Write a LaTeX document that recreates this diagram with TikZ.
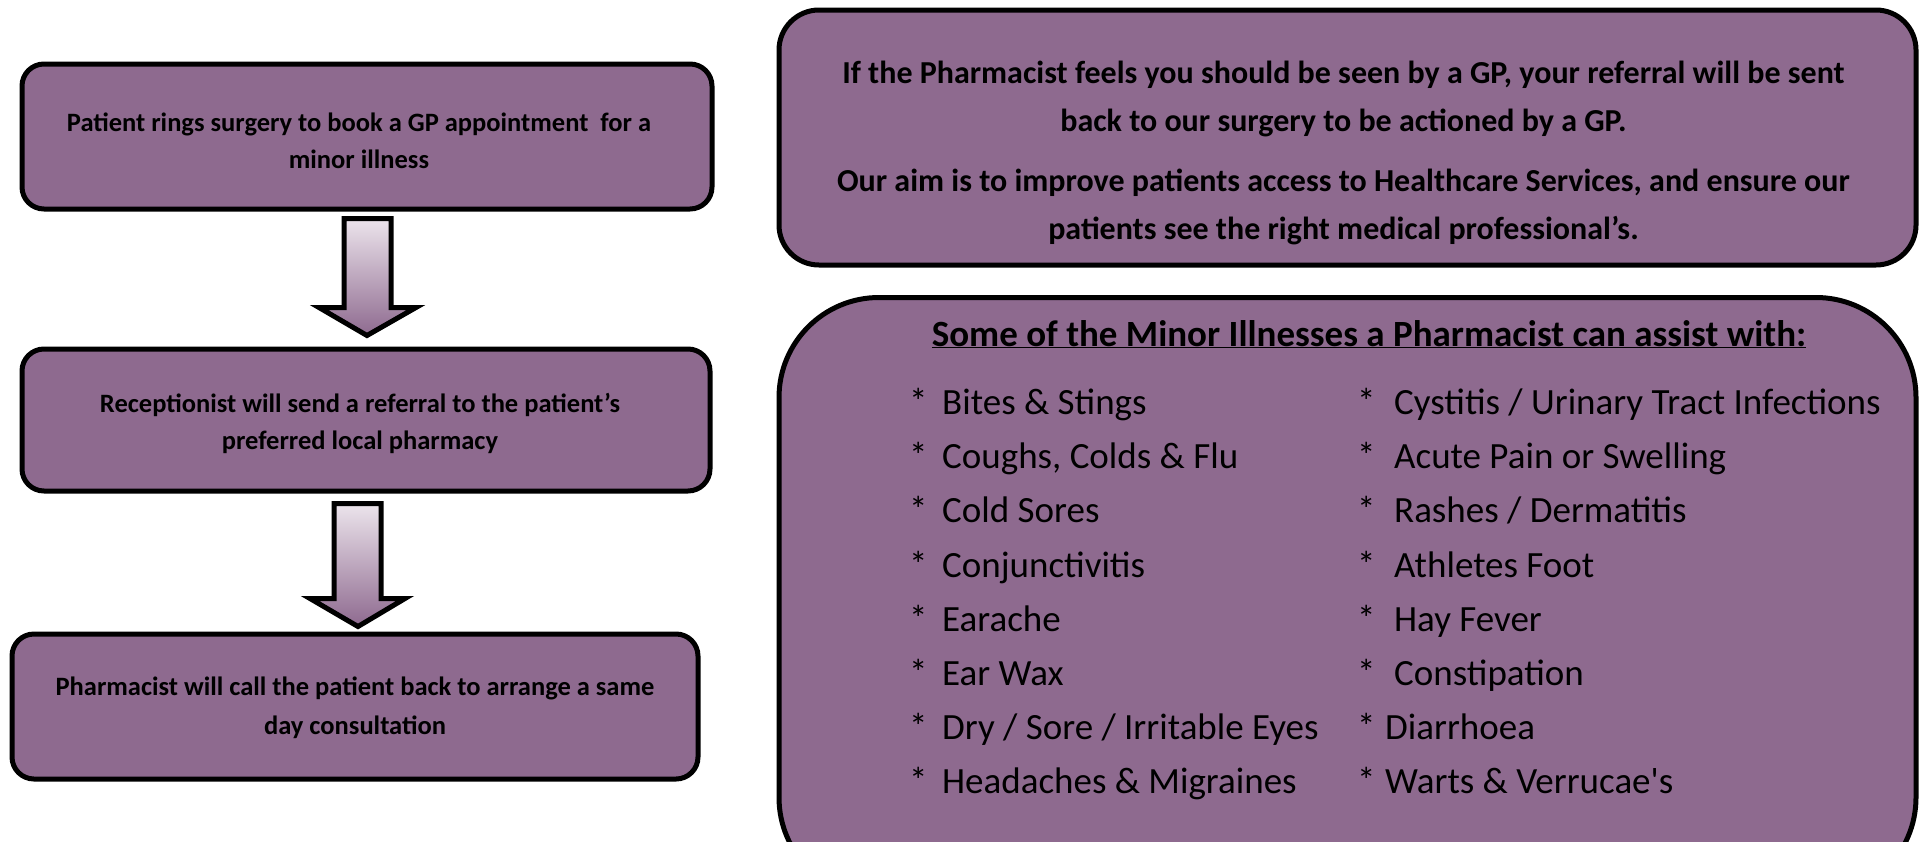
\documentclass[tikz,border=0pt]{standalone}
\usepackage{fontspec}
\setmainfont{Carlito}
\newfontfamily\plaincarlito{Carlito}
\usetikzlibrary{calc}
\definecolor{boxfill}{RGB}{142,106,143}
\definecolor{arrowtop}{RGB}{236,228,236}
\newcommand\litem[1]{\makebox[33pt][l]{*}#1}
\newcommand\ritem[1]{\makebox[37pt][l]{*}#1}
\newcommand\ritemb[1]{\makebox[28pt][l]{*}#1}
\begin{document}
\begin{tikzpicture}[x=1pt,y=1pt,
  flowbox/.style={draw=black, line width=5pt, fill=boxfill, rounded corners=22pt, inner sep=0pt},
  flowtext/.style={align=center, font=\bfseries\fontsize{26.5}{37}\selectfont, inner sep=0pt},
  infobox/.style={draw=black, line width=5pt, fill=boxfill, inner sep=0pt},
  blockarrow/.style={draw=black, line width=5pt, line join=miter, top color=arrowtop, bottom color=boxfill},
  listitem/.style={anchor=base west, inner sep=0pt, font=\fontsize{37}{42}\selectfont}
]
\useasboundingbox (0,0) rectangle (1926,-841);
\clip (0,0) rectangle (1926,-841);

% left flow boxes
\node[flowbox, minimum width=690pt, minimum height=145pt] (b1) at (367,-136.5) {};
\node[flowbox, minimum width=688pt, minimum height=142pt] (b2) at (366,-420) {};
\node[flowbox, minimum width=686pt, minimum height=145pt] (b3) at (355,-706.5) {};
\node[flowtext] (t1) at ($(b1.center)+(-8,-4)$)
  {Patient rings surgery to book a GP appointment\ \ for a\\minor illness};
\node[flowtext] (t2) at ($(b2.center)+(-6,-3)$)
  {Receptionist will send a referral to the patient’s\\preferred local pharmacy};
\node[flowtext] (t3) at ($(b3.center)+(0,-1)$)
  {\raisebox{2pt}{Pharmacist will call the patient back to arrange a same}\\day consultation};

% block arrows
\shade[blockarrow]
  ($(b1.south)+(-23,-7)$) -- ($(b1.south)+(24,-7)$) -- ($(b1.south)+(24,-96)$)
  -- ($(b1.south)+(49,-96)$) -- ($(b2.north)+(1,11)$) -- ($(b1.south)+(-48,-96)$)
  -- ($(b1.south)+(-23,-96)$) -- cycle;
\shade[blockarrow]
  ($(b2.south)+(-32,-10)$) -- ($(b2.south)+(15,-10)$) -- ($(b2.south)+(15,-105)$)
  -- ($(b2.south)+(39,-105)$) -- ($(b3.north)+(3,5)$) -- ($(b2.south)+(-56,-105)$)
  -- ($(b2.south)+(-32,-105)$) -- cycle;

% right top box
\node[infobox, rounded corners=40pt, minimum width=1137pt, minimum height=255pt] (info) at (1347.5,-137.5) {};
\node[align=center, font=\bfseries\fontsize{32}{48}\selectfont, inner sep=0pt] (infotext) at (1343.5,-153)
  {If the Pharmacist feels you should be seen by a GP, your referral will be sent\\
   back to our surgery to be actioned by a GP.\\[12pt]
   Our aim is to improve patients access to Healthcare Services, and ensure our\\
   patients see the right medical professional’s.};

% right bottom box
\node[infobox, rounded corners=100pt, minimum width=1137pt, minimum height=600pt, anchor=north] (list) at (1347.5,-295) {};
\node[inner sep=0pt, anchor=base, font=\bfseries\fontsize{37}{42}\selectfont] (head) at (1369,-346)
  {\underline{Some of the Minor Illnesses a Pharmacist can assist with:}};

\node[listitem] (l1) at (909,-414.5) {\litem{Bites \& Stings}};
\node[listitem] (l2) at (909,-468.5) {\litem{Coughs, Colds \& Flu}};
\node[listitem] (l3) at (909,-522.5) {\litem{Cold Sores}};
\node[listitem] (l4) at (909,-577.5) {\litem{Conjunctivitis}};
\node[listitem] (l5) at (909,-631.5) {\litem{Earache}};
\node[listitem] (l6) at (909,-685.5) {\litem{Ear Wax}};
\node[listitem] (l7) at (909,-739.5) {\litem{Dry / Sore / Irritable Eyes}};
\node[listitem] (l8) at (909,-793.5) {\litem{Headaches \& Migraines}};

\node[listitem] (r1) at (1357,-414.5) {\ritem{Cystitis / Urinary Tract Infections}};
\node[listitem] (r2) at (1357,-468.5) {\ritem{Acute Pain or Swelling}};
\node[listitem] (r3) at (1357,-522.5) {\ritem{Rashes / Dermatitis}};
\node[listitem] (r4) at (1357,-577.5) {\ritem{Athletes Foot}};
\node[listitem] (r5) at (1357,-631.5) {\ritem{Hay Fever}};
\node[listitem] (r6) at (1357,-685.5) {\ritem{Constipation}};
\node[listitem] (r7) at (1357,-739.5) {\ritemb{Diarrhoea}};
\node[listitem] (r8) at (1357,-793.5) {\ritemb{{\plaincarlito Warts \& Verrucae's}}};
\end{tikzpicture}
\end{document}
